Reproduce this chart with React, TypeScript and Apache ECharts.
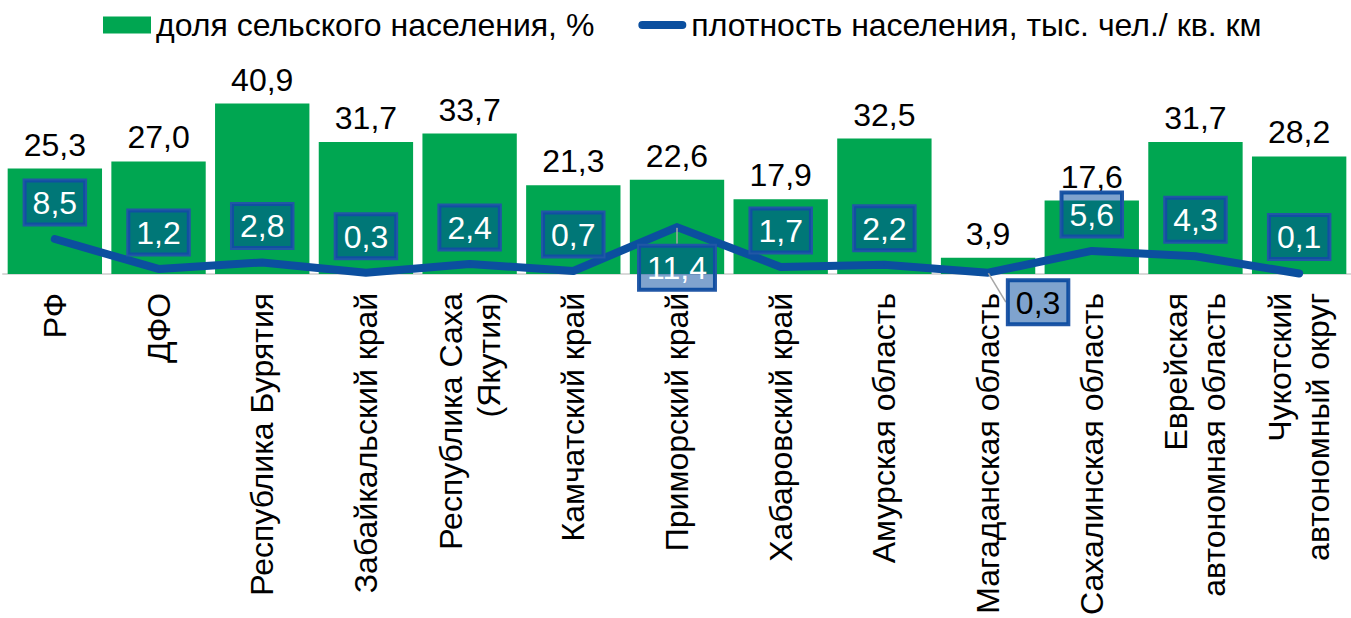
import React, { useEffect, useRef } from "react";
import * as echarts from "echarts";

const categories = [
  "РФ",
  "ДФО",
  "Республика Бурятия",
  "Забайкальский край",
  "Республика Саха\n(Якутия)",
  "Камчатский край",
  "Приморский край",
  "Хабаровский край",
  "Амурская область",
  "Магаданская область",
  "Сахалинская область",
  "Еврейская\nавтономная область",
  "Чукотский\nавтономный округ",
];
const ruralShare = [25.3, 27.0, 40.9, 31.7, 33.7, 21.3, 22.6, 17.9, 32.5, 3.9, 17.6, 31.7, 28.2];
const density = [8.5, 1.2, 2.8, 0.3, 2.4, 0.7, 11.4, 1.7, 2.2, 0.3, 5.6, 4.3, 0.1];
const seriesNames = ["доля сельского населения, %", "плотность населения, тыс. чел./ кв. км"];

const FONT = "'Liberation Sans', Arial, sans-serif";
const fmt = (v: number) => v.toFixed(1).replace(".", ",");

export default function App() {
  const ref = useRef<HTMLDivElement>(null);
  useEffect(() => {
    document.body.style.margin = "0";
    const chart = echarts.init(ref.current!, null, { renderer: "svg" });
    const lineData = density.map((v, i) => {
      if (i === 6) {
        return {
          value: v,
          label: { position: "bottom", distance: 18 },
          labelLine: { show: true, lineStyle: { color: "#A6A6A6", width: 1.5 } },
        };
      }
      if (i === 9) {
        return {
          value: v,
          label: { color: "#000" },
          labelLine: { show: true, lineStyle: { color: "#A6A6A6", width: 1.5 } },
        };
      }
      return v;
    });
    chart.setOption({
      animation: false,
      textStyle: { fontFamily: FONT },
      legend: {
        left: 98,
        top: 4,
        itemWidth: 48,
        itemHeight: 17,
        itemGap: 44,
        textStyle: { fontSize: 32, color: "#000", fontFamily: FONT },
        data: [
          { name: seriesNames[0], icon: "rect" },
          {
            name: seriesNames[1],
            icon: "path://M4,0 H44 A4,4 0 0 1 44,8 H4 A4,4 0 0 1 4,0 Z",
            itemStyle: { color: "#0B4F9F" },
          },
        ],
      },
      grid: { left: 3, right: -10, top: 86.5, bottom: 339.5, containLabel: false },
      xAxis: {
        type: "category",
        data: categories,
        axisLine: { show: true, lineStyle: { color: "#D9D9D9", width: 2 } },
        axisTick: { show: false },
        axisLabel: {
          rotate: 90,
          interval: 0,
          margin: 19,
          fontSize: 32,
          lineHeight: 38,
          color: "#000",
          fontFamily: FONT,
        },
      },
      yAxis: [
        { type: "value", min: 0, max: 45, show: false, splitLine: { show: false } },
        { type: "value", min: 0, max: 45.7, show: false, splitLine: { show: false } },
      ],
      series: [
        {
          name: seriesNames[0],
          type: "bar",
          data: ruralShare,
          barCategoryGap: "9%",
          itemStyle: { color: "#00A651" },
          label: {
            show: true,
            position: "top",
            distance: 8,
            fontSize: 32,
            color: "#000",
            fontFamily: FONT,
            formatter: (p: any) => fmt(p.value),
          },
        },
        {
          name: seriesNames[1],
          type: "line",
          yAxisIndex: 1,
          data: lineData,
          symbol: "circle",
          symbolSize: 1,
          itemStyle: { color: "#0B4F9F" },
          lineStyle: { color: "#0B4F9F", width: 8, cap: "round", join: "round" },
          labelLayout: (p: any) => (p.dataIndex === 9 ? { dx: 50, dy: 66 } : {}),
          label: {
            show: true,
            position: "top",
            distance: 14,
            fontSize: 32,
            lineHeight: 33,
            color: "#fff",
            fontFamily: FONT,
            backgroundColor: "rgba(0,71,157,0.5)",
            borderColor: "#2157A6",
            borderWidth: 2,
            padding: [6, 8, 5, 8],
            formatter: (p: any) => fmt(p.value),
          },
          z: 3,
        },
      ],
    });
    return () => chart.dispose();
  }, []);
  return <div ref={ref} style={{ width: 1351, height: 618 }} />;
}
